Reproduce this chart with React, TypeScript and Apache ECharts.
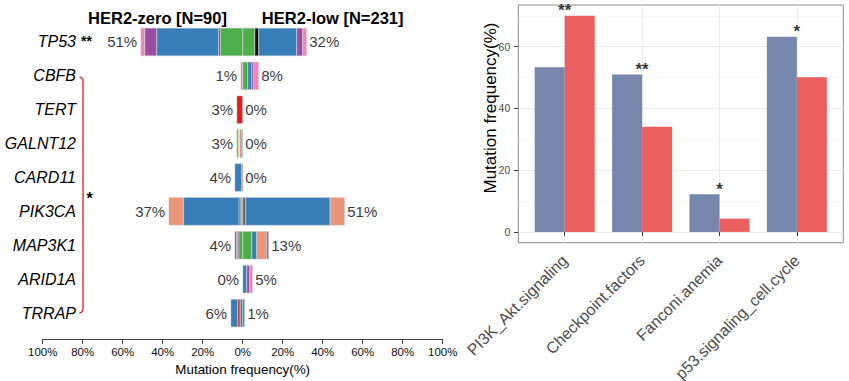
import React, { useEffect, useRef } from "react";
import * as echarts from "echarts";

// ---------- left panel: mutation frequency per gene ----------
const genes = ["TP53", "CBFB", "TERT", "GALNT12", "CARD11", "PIK3CA", "MAP3K1", "ARID1A", "TRRAP"];
const geneStars = ["**", "", "", "", "", "", "", "", ""];
const zeroPct = [51, 1, 3, 3, 4, 37, 4, 0, 6];
const lowPct = [32, 8, 0, 0, 0, 51, 13, 5, 1];
const groupTitles = ["HER2-zero [N=90]", "HER2-low [N=231]"];
const bracketStar = "*";

const mutColors: Record<string, string> = {
  Missense: "#377EB8",
  Nonsense: "#4DAF4A",
  FrameShiftDel: "#984EA3",
  FrameShiftIns: "#F781BF",
  SpliceSite: "#E41A1C",
  InFrameIns: "#FFFF33",
  InFrameDel: "#E9967A",
  MultiHit: "#111111",
  Other: "#666666",
};

// segments listed from the centre outwards: [type, % of group]
const zeroSegments: [string, number][][] = [
  [["Nonsense", 11], ["Other", 1], ["Missense", 31], ["FrameShiftDel", 6], ["FrameShiftIns", 2]],
  [["FrameShiftIns", 1]],
  [["SpliceSite", 3]],
  [["Missense", 0.7], ["SpliceSite", 0.6], ["InFrameIns", 1], ["Missense", 0.7]],
  [["SpliceSite", 0.5], ["Missense", 3.5]],
  [["Other", 0.6], ["Nonsense", 0.5], ["MultiHit", 0.7], ["Missense", 27.8], ["InFrameDel", 7.4]],
  [["Nonsense", 2], ["MultiHit", 0.5], ["Missense", 0.5], ["FrameShiftDel", 1]],
  [],
  [["Missense", 1.3], ["SpliceSite", 1.2], ["Missense", 3.5]],
];
const lowSegments: [string, number][][] = [
  [["Nonsense", 6], ["MultiHit", 2], ["Missense", 19], ["FrameShiftDel", 3], ["FrameShiftIns", 2]],
  [["Nonsense", 2.5], ["Missense", 2], ["FrameShiftDel", 1], ["FrameShiftIns", 2.5]],
  [],
  [],
  [],
  [["Other", 1.5], ["Missense", 42.2], ["InFrameDel", 7.3]],
  [["Nonsense", 4.5], ["Missense", 2.5], ["InFrameDel", 5], ["FrameShiftDel", 1]],
  [["Missense", 2], ["FrameShiftDel", 1.5], ["FrameShiftIns", 1.5]],
  [["Missense", 1]],
];
const xTicks = [-100, 100];

// ---------- right panel: pathway mutation frequency ----------
const pathways = ["PI3K_Akt.signaling", "Checkpoint.factors", "Fanconi.anemia", "p53.signaling_cell.cycle"];
const her2ZeroFreq = [53.3, 51.0, 12.2, 63.2];
const her2LowFreq = [70.0, 34.1, 4.3, 50.1];
const pathwayStars = ["**", "**", "*", "*"];
const yMajorTicks = [0, 20, 40, 60];
const yMinorTicks = [10, 30, 50, 70];

const FONT = "'Liberation Sans', Arial, Helvetica, sans-serif";

function segmentSeries(segs: [string, number][][], sign: number, name: string) {
  const maxLen = Math.max(...segs.map((s) => s.length));
  const out: any[] = [];
  for (let k = 0; k < maxLen; k++) {
    out.push({
      type: "bar",
      name: `${name}-${k}`,
      stack: "genes",
      barWidth: 28,
      barGap: "-100%",
      itemStyle: { borderColor: "#c4c4c4", borderWidth: 0.45 },
      data: genes.map((_, i) => {
        const seg = segs[i][k];
        return seg ? { value: sign * seg[1], itemStyle: { color: mutColors[seg[0]] } } : "-";
      }),
    });
  }
  return out;
}

function leftOption(): any {
  return {
    animation: false,
    textStyle: { fontFamily: FONT },
    grid: { left: 42.7, width: 400, top: 25, height: 305, outerBoundsMode: "none", containLabel: false },
    xAxis: {
      type: "value",
      min: xTicks[0],
      max: xTicks[1],
      interval: 20,
      offset: 9,
      axisLine: { show: true, lineStyle: { color: "#444", width: 1 } },
      axisTick: { show: true, length: 5, lineStyle: { color: "#444" } },
      axisLabel: {
        formatter: (v: number) => `${Math.abs(v)}%`,
        fontSize: 11.5,
        color: "#111",
        margin: 7,
      },
      splitLine: { show: false },
      name: "Mutation frequency(%)",
      nameLocation: "middle",
      nameGap: 21,
      nameTextStyle: { fontSize: 13.4, color: "#000" },
    },
    yAxis: {
      type: "category",
      inverse: true,
      data: genes,
      axisLine: { show: false },
      axisTick: { show: false },
      axisLabel: {
        margin: -54.3,
        formatter: (v: string, idx: number) => `{g|${v}}{s|${geneStars[idx] || "\u00a0"}}`,
        rich: {
          g: { fontSize: 16, fontStyle: "italic", color: "#000", fontFamily: FONT },
          s: { fontSize: 14, fontWeight: "bold", width: 21, align: "center", color: "#000", fontFamily: FONT, padding: [0, 0, 2, 0] },
        },
      },
    },
    series: [
      ...segmentSeries(zeroSegments, -1, "zero"),
      ...segmentSeries(lowSegments, 1, "low"),
      {
        type: "scatter",
        symbolSize: 1,
        itemStyle: { color: "rgba(0,0,0,0)" },
        data: genes.map((g, i) => [-zeroPct[i], g]),
        label: {
          show: true,
          position: "left",
          distance: 3,
          fontSize: 15,
          color: "#000",
          formatter: (p: any) => `${zeroPct[p.dataIndex]}%`,
        },
      },
      {
        type: "scatter",
        symbolSize: 1,
        itemStyle: { color: "rgba(0,0,0,0)" },
        data: genes.map((g, i) => [lowPct[i], g]),
        label: {
          show: true,
          position: "right",
          distance: 2,
          fontSize: 15,
          color: "#000",
          formatter: (p: any) => `${lowPct[p.dataIndex]}%`,
        },
      },
    ],
  };
}

function rightOption(): any {
  const catPos = pathways.map((_, i) => i + 1);
  return {
    animation: false,
    textStyle: { fontFamily: FONT },
    grid: {
      left: 69.3,
      right: 5.7,
      top: 5,
      bottom: 138.3,
      show: true,
      borderColor: "#8a8a8a",
      borderWidth: 1,
      backgroundColor: "#fff",
      outerBoundsMode: "none",
      containLabel: false,
    },
    xAxis: {
      type: "value",
      min: 0.4,
      max: 4.6,
      axisLine: { show: false },
      axisTick: { show: true, customValues: catPos, length: 4, lineStyle: { color: "#333" } },
      axisLabel: {
        customValues: catPos,
        formatter: (v: number) => pathways[Math.round(v) - 1],
        rotate: 45,
        fontSize: 16,
        color: "#4d4d4d",
        margin: 15,
      },
      splitLine: { show: true, lineStyle: { color: "#ebebeb", width: 1 } },
    },
    yAxis: [
      {
        type: "value",
        min: -3.5,
        max: 73.5,
        axisLine: { show: false },
        axisTick: { show: true, customValues: yMajorTicks, length: 4, lineStyle: { color: "#333" } },
        axisLabel: { customValues: yMajorTicks, fontSize: 10.5, color: "#4d4d4d", margin: 8 },
        splitLine: { show: true, lineStyle: { color: "#ebebeb", width: 1 } },
      },
      {
        type: "value",
        min: -3.5,
        max: 73.5,
        position: "left",
        axisLine: { show: false },
        axisTick: { show: false, customValues: yMinorTicks },
        axisLabel: { show: false, customValues: yMinorTicks },
        splitLine: { show: true, lineStyle: { color: "#f4f4f4", width: 0.6 } },
      },
    ],
    series: [
      {
        type: "bar",
        name: "HER2-zero",
        barWidth: 30,
        barGap: "0%",
        itemStyle: { color: "#7787AC" },
        data: catPos.map((x, i) => [x, her2ZeroFreq[i]]),
      },
      {
        type: "bar",
        name: "HER2-low",
        barWidth: 30,
        barGap: "0%",
        itemStyle: { color: "#EC5F60" },
        data: catPos.map((x, i) => [x, her2LowFreq[i]]),
      },
      {
        type: "scatter",
        symbolSize: 1,
        itemStyle: { color: "rgba(0,0,0,0)" },
        data: catPos.map((x, i) => [x, Math.max(her2ZeroFreq[i], her2LowFreq[i])]),
        label: {
          show: true,
          position: "top",
          distance: -4,
          fontSize: 17,
          fontWeight: "bold",
          color: "#000",
          formatter: (p: any) => pathwayStars[p.dataIndex],
        },
      },
    ],
    graphic: [
      {
        type: "text",
        x: 41,
        y: 108,
        rotation: Math.PI / 2,
        style: {
          text: "Mutation frequency(%)",
          fontSize: 17,
          fontFamily: FONT,
          fill: "#000",
          align: "center",
          verticalAlign: "middle",
        },
      },
    ],
  };
}

export default function App() {
  const leftRef = useRef<HTMLDivElement>(null);
  const rightRef = useRef<HTMLDivElement>(null);

  useEffect(() => {
    const left = echarts.init(leftRef.current!, null, { renderer: "svg" });
    const right = echarts.init(rightRef.current!, null, { renderer: "svg" });
    left.setOption(leftOption());
    right.setOption(rightOption());

    const yT = left.convertToPixel({ yAxisIndex: 0 }, 1) as number;
    const yB = left.convertToPixel({ yAxisIndex: 0 }, genes.length - 1) as number;
    const xZeroTitle = left.convertToPixel({ xAxisIndex: 0 }, -42.6) as number;
    const xLowTitle = left.convertToPixel({ xAxisIndex: 0 }, 45) as number;
    const bx = 83;
    left.setOption({
      graphic: [
        {
          type: "polyline",
          shape: {
            points: [
              [bx - 3.5, yT + 1],
              [bx - 1.8, yT + 1.6],
              [bx - 0.6, yT + 3],
              [bx, yT + 5.5],
              [bx, yB - 4.5],
              [bx - 0.6, yB - 2],
              [bx - 1.8, yB - 0.6],
              [bx - 3.5, yB],
            ],
          },
          style: { stroke: "#E41A1C", lineWidth: 1.3, fill: "none" },
        },
        {
          type: "text",
          x: 89.7,
          y: (yT + yB) / 2 + 4,
          style: {
            text: bracketStar,
            fontSize: 16,
            fontWeight: "bold",
            fontFamily: FONT,
            fill: "#000",
            align: "center",
            verticalAlign: "middle",
          },
        },
        {
          type: "text",
          x: xZeroTitle,
          y: 18,
          style: {
            text: groupTitles[0],
            fontSize: 16.5,
            fontWeight: "bold",
            fontFamily: FONT,
            fill: "#000",
            align: "center",
            verticalAlign: "middle",
          },
        },
        {
          type: "text",
          x: xLowTitle,
          y: 18,
          style: {
            text: groupTitles[1],
            fontSize: 16.5,
            fontWeight: "bold",
            fontFamily: FONT,
            fill: "#000",
            align: "center",
            verticalAlign: "middle",
          },
        },
      ],
    });

    return () => {
      left.dispose();
      right.dispose();
    };
  }, []);

  return (
    <div style={{ position: "absolute", left: 0, top: 0, width: 849, height: 381, background: "#fff" }}>
      <div ref={leftRef} style={{ position: "absolute", left: 0, top: 0, width: 470, height: 381 }} />
      <div ref={rightRef} style={{ position: "absolute", left: 449, top: 0, width: 400, height: 381 }} />
    </div>
  );
}
